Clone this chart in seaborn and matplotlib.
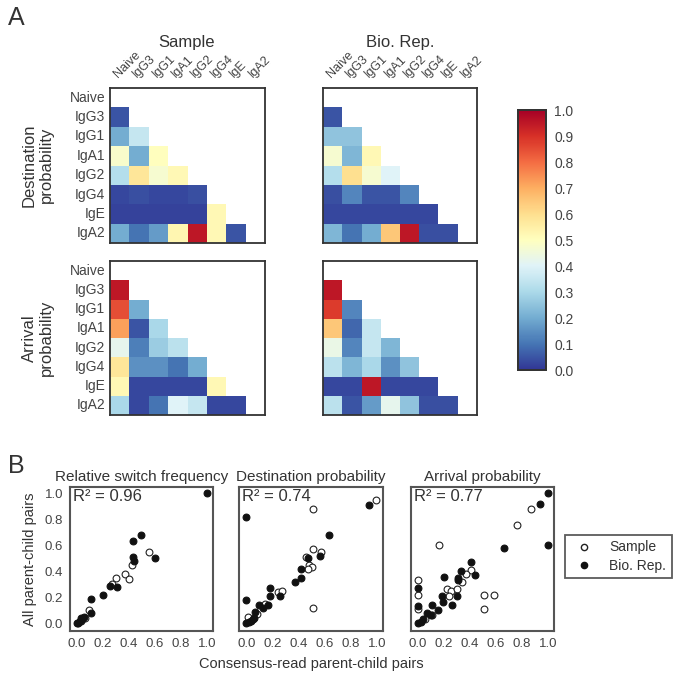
import numpy as np
import pandas as pd
import matplotlib
matplotlib.use('Agg')
import matplotlib.pyplot as plt
from matplotlib.lines import Line2D
import seaborn as sns

isotypes = ['Naive', 'IgG3', 'IgG1', 'IgA1', 'IgG2', 'IgG4', 'IgE', 'IgA2']

# lower triangle rows (row i has i values)
dest_sample = [
    [0.05],
    [0.20, 0.35],
    [0.48, 0.20, 0.50],
    [0.32, 0.58, 0.47, 0.52],
    [0.03, 0.04, 0.03, 0.03, 0.04],
    [0.02, 0.02, 0.02, 0.02, 0.02, 0.52],
    [0.20, 0.10, 0.17, 0.53, 0.95, 0.52, 0.05],
]
dest_biorep = [
    [0.05],
    [0.25, 0.25],
    [0.47, 0.22, 0.52],
    [0.32, 0.60, 0.47, 0.40],
    [0.04, 0.13, 0.05, 0.05, 0.13],
    [0.03, 0.03, 0.03, 0.03, 0.03, 0.03],
    [0.22, 0.10, 0.20, 0.65, 0.95, 0.04, 0.04],
]
arr_sample = [
    [0.95],
    [0.85, 0.20],
    [0.72, 0.05, 0.30],
    [0.42, 0.12, 0.27, 0.33],
    [0.58, 0.15, 0.15, 0.10, 0.20],
    [0.52, 0.03, 0.03, 0.03, 0.03, 0.52],
    [0.30, 0.03, 0.10, 0.40, 0.35, 0.03, 0.03],
]
arr_biorep = [
    [0.95],
    [0.88, 0.13],
    [0.65, 0.08, 0.35],
    [0.43, 0.13, 0.35, 0.22],
    [0.33, 0.22, 0.30, 0.15, 0.25],
    [0.03, 0.03, 0.95, 0.03, 0.03, 0.03],
    [0.33, 0.05, 0.17, 0.42, 0.25, 0.04, 0.04],
]

# scatter: consensus-read (x) vs all pairs (y)
rsf_sample_x = [0.55, 0.42, 0.30, 0.37, 0.40, 0.27, 0.09, 0.03, 0.06]
rsf_sample_y = [0.55, 0.45, 0.35, 0.38, 0.34, 0.30, 0.10, 0.02, 0.04]
rsf_rep_x = [1.0, 0.49, 0.43, 0.43, 0.44, 0.60, 0.25, 0.31, 0.20, 0.11, 0.105, 0.01, 0.02, 0.03, 0.05, 0.0, 0.04]
rsf_rep_y = [1.0, 0.68, 0.63, 0.51, 0.48, 0.50, 0.29, 0.28, 0.22, 0.19, 0.08, 0.0, 0.02, 0.04, 0.05, 0.0, 0.03]

dp_sample_x = [0.99, 0.51, 0.51, 0.57, 0.46, 0.48, 0.50, 0.47, 0.24, 0.27, 0.51, 0.14, 0.08, 0.01]
dp_sample_y = [0.95, 0.88, 0.57, 0.55, 0.51, 0.45, 0.43, 0.42, 0.24, 0.25, 0.12, 0.15, 0.07, 0.05]
dp_rep_x = [0.94, 0.0, 0.63, 0.47, 0.56, 0.42, 0.42, 0.37, 0.18, 0.18, 0.26, 0.0, 0.10, 0.17, 0.13, 0.07,
            0.0, 0.02, 0.04, 0.05, 0.06]
dp_rep_y = [0.91, 0.82, 0.68, 0.50, 0.52, 0.42, 0.35, 0.32, 0.27, 0.21, 0.21, 0.18, 0.14, 0.14, 0.12, 0.09,
            0.0, 0.01, 0.02, 0.03, 0.04]

ap_sample_x = [0.87, 0.76, 0.16, 0.41, 0.37, 0.34, 0.0, 0.0, 0.22, 0.25, 0.30, 0.24, 0.51, 0.58, 0.51, 0.0,
               0.11, 0.05]
ap_sample_y = [0.88, 0.76, 0.60, 0.41, 0.38, 0.32, 0.33, 0.22, 0.26, 0.25, 0.26, 0.21, 0.22, 0.22, 0.11, 0.11,
               0.06, 0.03]
ap_rep_x = [1.0, 0.94, 0.66, 1.0, 0.41, 0.33, 0.44, 0.20, 0.31, 0.31, 0.0, 0.18, 0.30, 0.19, 0.11, 0.26,
            0.0, 0.15, 0.07, 0.10, 0.0, 0.02, 0.04]
ap_rep_y = [1.0, 0.92, 0.58, 0.60, 0.47, 0.40, 0.37, 0.36, 0.35, 0.33, 0.27, 0.21, 0.21, 0.16, 0.14, 0.14,
            0.13, 0.10, 0.08, 0.06, 0.0, 0.01, 0.03]

scatter_titles = ['Relative switch frequency', 'Destination probability', 'Arrival probability']
r2_values = ['0.96', '0.74', '0.77']

sns.set_style('white')
plt.rcParams['font.family'] = ['Liberation Sans', 'DejaVu Sans']
plt.rcParams['text.color'] = '#333333'
plt.rcParams['axes.labelcolor'] = '#333333'
plt.rcParams['xtick.color'] = '#444444'
plt.rcParams['ytick.color'] = '#444444'

W, H = 680, 691
fig = plt.figure(figsize=(W / 100, H / 100), dpi=100)


def box(l, t, r, b):
    return [l / W, 1 - b / H, (r - l) / W, (b - t) / H]


def to_matrix(rows):
    m = np.full((8, 8), np.nan)
    for i, row in enumerate(rows):
        for j, v in enumerate(row):
            m[i + 1, j] = v
    return pd.DataFrame(m, index=isotypes, columns=isotypes)


cax = fig.add_axes(box(518, 110, 546, 370))
heat_sets = [
    (dest_sample, box(110, 88, 265, 243), True, True),
    (dest_biorep, box(323, 88, 477, 243), True, False),
    (arr_sample, box(110, 261, 265, 415), False, True),
    (arr_biorep, box(323, 261, 477, 415), False, False),
]
for k, (rows, pos, top, left) in enumerate(heat_sets):
    ax = fig.add_axes(pos)
    df = to_matrix(rows)
    sns.heatmap(df, ax=ax, cmap='RdYlBu_r', vmin=0, vmax=1, mask=df.isna(),
                cbar=(k == 0), cbar_ax=cax if k == 0 else None, square=False)
    for s in ax.spines.values():
        s.set_visible(True)
        s.set_color('#333333')
        s.set_linewidth(1.3)
    ax.tick_params(length=0)
    if top:
        ax.xaxis.tick_top()
        ax.tick_params(axis='x', pad=6)
        ax.set_xticklabels(isotypes, rotation=45, ha='left', rotation_mode='anchor', fontsize=9)
    else:
        ax.set_xticklabels([])
    if left:
        ax.set_yticklabels(isotypes, rotation=0, fontsize=10)
    else:
        ax.set_yticklabels([])
    ax.set_xlabel('')
    ax.set_ylabel('')

cax.tick_params(length=0, labelsize=10, pad=6)
cax.set_yticks(np.arange(0, 1.01, 0.1))
cax.set_yticklabels(['%.1f' % v for v in np.arange(0, 1.01, 0.1)])
for s in cax.spines.values():
    s.set_visible(True)
    s.set_color('#333333')
    s.set_linewidth(1.3)

fig.text(187 / W, 1 - 42 / H, 'Sample', ha='center', va='center', fontsize=12)
fig.text(400 / W, 1 - 42 / H, 'Bio. Rep.', ha='center', va='center', fontsize=12)
fig.text(38 / W, 1 - 165 / H, 'Destination\nprobability', ha='center', va='center', rotation=90, fontsize=12)
fig.text(38 / W, 1 - 338 / H, 'Arrival\nprobability', ha='center', va='center', rotation=90, fontsize=12)
fig.text(8 / W, 1 - 18 / H, 'A', ha='left', va='center', fontsize=18)
fig.text(8 / W, 1 - 466 / H, 'B', ha='left', va='center', fontsize=18)

scatter_data = [
    (rsf_sample_x, rsf_sample_y, rsf_rep_x, rsf_rep_y),
    (dp_sample_x, dp_sample_y, dp_rep_x, dp_rep_y),
    (ap_sample_x, ap_sample_y, ap_rep_x, ap_rep_y),
]
scatter_pos = [box(70, 487, 213, 631), box(239, 487, 383, 631), box(411, 487, 554, 631)]
for i, (sx, sy, rx, ry) in enumerate(scatter_data):
    ax = fig.add_axes(scatter_pos[i])
    sns.scatterplot(x=sx, y=sy, ax=ax, s=24, facecolor='white', edgecolor='#222222', linewidth=0.8)
    sns.scatterplot(x=rx, y=ry, ax=ax, s=24, color='#111111', edgecolor='#111111', linewidth=0.8)
    ax.set_xlim(-0.055, 1.045)
    ax.set_ylim(-0.06, 1.05)
    ax.set_xticks(np.arange(0, 1.01, 0.2))
    ax.set_xticklabels(['%.1f' % v for v in np.arange(0, 1.01, 0.2)], fontsize=9.5)
    if i == 0:
        ax.set_yticks(np.arange(0, 1.01, 0.2))
        ax.set_yticklabels(['%.1f' % v for v in np.arange(0, 1.01, 0.2)], fontsize=9.5)
    else:
        ax.set_yticks([])
    ax.tick_params(length=0, pad=5)
    for s in ax.spines.values():
        s.set_color('#555555')
        s.set_linewidth(1.5)
    ax.set_title(scatter_titles[i], fontsize=11, pad=4)
    ax.text(0.02, 0.985, 'R² = ' + r2_values[i], transform=ax.transAxes, ha='left', va='top', fontsize=12)

handles = [
    Line2D([], [], marker='o', linestyle='', markerfacecolor='white', markeredgecolor='#222222', markersize=4.5),
    Line2D([], [], marker='o', linestyle='', markerfacecolor='#111111', markeredgecolor='#111111', markersize=4.5),
]
leg = fig.legend(handles, ['Sample', 'Bio. Rep.'], loc='upper left', bbox_to_anchor=(558 / W, 1 - 528 / H),
                 frameon=True, fancybox=False, fontsize=10, handletextpad=0.8, borderpad=0.4,
                 labelspacing=0.3)
leg.get_frame().set_edgecolor('#333333')
leg.get_frame().set_linewidth(1.3)

fig.text(30 / W, 1 - 559 / H, 'All parent-child pairs', ha='center', va='center', rotation=90, fontsize=10.5)
fig.text(311 / W, 1 - 664 / H, 'Consensus-read parent-child pairs', ha='center', va='center', fontsize=10.5)

fig.savefig('out.png', dpi=100)
